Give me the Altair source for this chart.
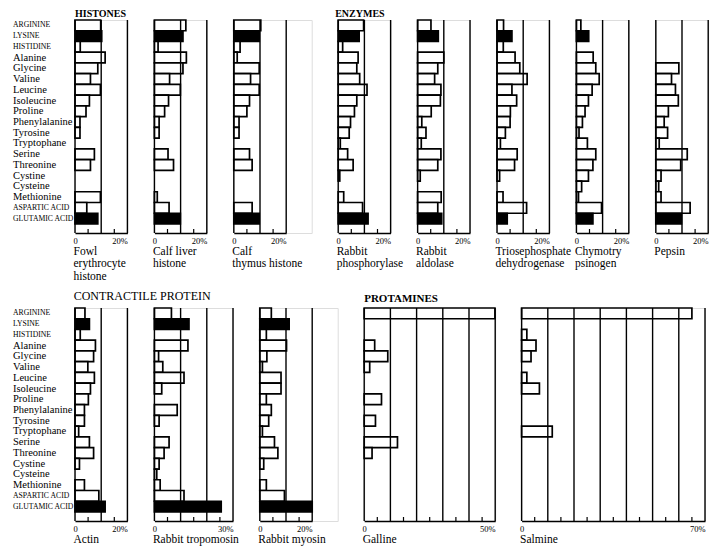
import altair as alt
import pandas as pd

FONT = "Liberation Serif"

AMINO = ["ARGININE", "LYSINE", "HISTIDINE", "Alanine", "Glycine", "Valine",
         "Leucine", "Isoleucine", "Proline", "Phenylalanine", "Tyrosine",
         "Tryptophane", "Serine", "Threonine", "Cystine", "Cysteine",
         "Methionine", "ASPARTIC ACID", "GLUTAMIC ACID"]
SMALL_CAPS = ["ARGININE", "LYSINE", "HISTIDINE", "ASPARTIC ACID", "GLUTAMIC ACID"]
DARK = ["LYSINE", "GLUTAMIC ACID"]

# percentages (order as AMINO)
FOWL = [9.8, 10.2, 2.0, 11.5, 8.7, 5.9, 9.7, 5.5, 4.2, 1.9, 1.9, 0, 7.4, 5.9, 0, 0, 9.7, 4.5, 8.7]
CALF_LIVER = [12.0, 10.9, 1.4, 12.2, 10.9, 5.8, 9.9, 5.4, 3.9, 1.8, 1.8, 0, 5.2, 7.3, 0, 0, 1.1, 5.6, 9.9]
CALF_THYMUS = [10.3, 9.7, 2.4, 1.3, 9.7, 6.4, 9.7, 6.0, 5.0, 2.0, 2.0, 0, 6.0, 7.0, 0, 0, 0, 7.0, 9.7]
PHOSPHORYLASE = [9.7, 8.0, 1.7, 7.6, 7.1, 8.2, 11.0, 7.1, 6.2, 4.7, 4.2, 0.8, 3.6, 5.7, 0.6, 0, 2.1, 9.3, 11.4]
ALDOLASE = [5.1, 7.9, 0, 10.0, 7.7, 6.5, 8.9, 8.7, 5.2, 1.6, 3.2, 1.4, 8.9, 7.7, 1.0, 0, 9.0, 7.7, 9.2]
TRIOSE = [2.5, 5.7, 2.4, 6.9, 8.7, 11.5, 5.7, 7.5, 5.1, 5.0, 3.2, 1.3, 7.7, 6.7, 1.0, 0, 2.3, 11.3, 3.9]
CHYMO = [1.7, 4.7, 0, 6.4, 7.4, 8.7, 6.0, 4.6, 3.3, 2.3, 1.0, 4.2, 7.4, 6.3, 4.6, 2.0, 0.8, 9.6, 6.3]
PEPSIN = [0, 0, 0, 0, 8.8, 6.0, 7.5, 8.6, 4.8, 3.2, 4.5, 1.3, 12.0, 9.5, 2.0, 1.1, 2.0, 13.1, 9.8]
ACTIN = [3.8, 5.5, 2.0, 7.8, 7.1, 4.9, 7.4, 5.9, 5.1, 3.6, 3.6, 1.4, 5.5, 7.1, 1.7, 0, 3.6, 9.1, 11.5]
TROPOMYOSIN = [6.5, 13.2, 0, 12.8, 1.6, 3.2, 11.3, 2.8, 0, 8.7, 1.8, 0, 5.6, 3.7, 1.8, 0.9, 2.2, 11.3, 25.5]
MYOSIN = [4.4, 11.2, 2.5, 10.2, 2.7, 1.0, 8.1, 8.1, 2.5, 4.4, 3.4, 1.0, 5.6, 6.9, 1.5, 0, 2.5, 9.4, 20.0]
GALLINE = [49.9, 0, 0, 4.0, 9.0, 2.1, 0, 0, 6.6, 0, 4.3, 0, 12.7, 3.0, 0, 0, 0, 0, 0]
SALMINE = [65.0, 0, 2.0, 5.5, 3.6, 0, 2.0, 6.8, 0, 0, 0, 11.7, 0, 0, 0, 0, 0, 0, 0]

TOP_NAMES = [["Fowl", "erythrocyte", "histone"], ["Calf liver", "histone"],
             ["Calf", "thymus histone"], ["Rabbit", "phosphorylase"],
             ["Rabbit", "aldolase"], ["Triosephosphate", "\u00a0\u00a0dehydrogenase"],
             ["Chymotry", "psinogen"], ["Pepsin"]]
BOTTOM_NAMES = [["Actin"], ["Rabbit tropomosin"], ["Rabbit myosin"], ["Galline"], ["Salmine"]]

PX = 2.62    # pixels per percent
H = 213      # panel height
GAP = 26.4   # space between panels of a group
EXTRA = 25.5  # additional space after the last panel of a group


def panel(title_lines, values, vmax, heading=None, labels=False, extra=0):
    w = vmax * PX
    df = pd.DataFrame({"amino": AMINO, "value": values,
                       "dark": [a in DARK for a in AMINO]})
    df = df[df["value"] > 0]
    xs = alt.Scale(domain=[0, vmax], range=[0, w], nice=False, zero=True)
    ys = alt.Scale(domain=AMINO, paddingInner=0, paddingOuter=0.42, align=0)
    ax = alt.Axis(values=[0, vmax], ticks=False, tickSize=0, grid=False,
                  domain=True, domainColor="black", domainWidth=1.5,
                  labelFont=FONT, labelFontSize=8.5, labelColor="black",
                  labelPadding=3, labelOverlap=False, labelFlush=False,
                  labelExpr="datum.value == 0 ? '0' : datum.value + '%'",
                  labelAlign={"condition": {"test": "datum.value == 0", "value": "center"},
                              "value": "right"},
                  title=title_lines, titleFont=FONT, titleFontSize=11.5,
                  titleFontWeight="normal", titleColor="black",
                  titleAlign="left", titleAnchor="start", titleX=-2, titleY=21.5,
                  titleBaseline="alphabetic", titleLineHeight=12.3)

    bars = alt.Chart(df).mark_bar(stroke="black", strokeWidth=1.7).encode(
        x=alt.X("value:Q", scale=xs, axis=ax),
        y=alt.Y("amino:N", scale=ys, axis=None, sort=AMINO),
        fill=alt.condition(alt.datum.dark, alt.value("black"), alt.value("white")),
    )
    grid = alt.Chart(pd.DataFrame({"value": list(range(0, vmax + 1, 10))})).mark_rule(
        color="black", strokeWidth=1.4).encode(
        x=alt.X("value:Q", scale=xs, axis=ax), y=alt.value(0), y2=alt.value(H))
    ticks = alt.Chart(pd.DataFrame({"value": list(range(5, vmax, 10))})).mark_rule(
        color="black", strokeWidth=1.2).encode(
        x=alt.X("value:Q", scale=xs, axis=ax), y=alt.value(H), y2=alt.value(H - 4))
    layers = [bars, grid, ticks]

    if labels:
        ldf = pd.DataFrame({"amino": AMINO, "caps": [a in SMALL_CAPS for a in AMINO]})
        lab = alt.Chart(ldf).mark_text(align="left", baseline="middle", font=FONT,
                                       color="black").encode(
            y=alt.Y("amino:N", scale=ys, axis=None, sort=AMINO),
            x=alt.value(-62),
            text="amino:N",
            size=alt.condition(alt.datum.caps, alt.value(7.7), alt.value(10.5)),
        )
        layers.append(lab)

    if heading is not None:
        text, dx, dy, size, weight = heading
        hd = alt.Chart(pd.DataFrame({"t": [text]})).mark_text(
            align="left", baseline="alphabetic", font=FONT, fontSize=size,
            fontWeight=weight, color="black").encode(
            text="t:N", x=alt.value(dx), y=alt.value(dy))
        layers.append(hd)

    return alt.layer(*layers).properties(width=w + extra, height=H)


top = [
    panel(TOP_NAMES[0], FOWL, 20, heading=("HISTONES", 0, -3.5, 10, "bold"), labels=True),
    panel(TOP_NAMES[1], CALF_LIVER, 20),
    panel(TOP_NAMES[2], CALF_THYMUS, 20, extra=EXTRA),
    panel(TOP_NAMES[3], PHOSPHORYLASE, 20, heading=("ENZYMES", -3, -3.5, 10, "bold")),
    panel(TOP_NAMES[4], ALDOLASE, 20),
    panel(TOP_NAMES[5], TRIOSE, 20),
    panel(TOP_NAMES[6], CHYMO, 20),
    panel(TOP_NAMES[7], PEPSIN, 20),
]
bottom = [
    panel(BOTTOM_NAMES[0], ACTIN, 20, heading=("CONTRACTILE PROTEIN", -1.3, -8, 12, "normal"), labels=True),
    panel(BOTTOM_NAMES[1], TROPOMYOSIN, 30),
    panel(BOTTOM_NAMES[2], MYOSIN, 20, extra=EXTRA),
    panel(BOTTOM_NAMES[3], GALLINE, 50, heading=("PROTAMINES", 0, -6, 11, "bold")),
    panel(BOTTOM_NAMES[4], SALMINE, 70),
]

row1 = alt.hconcat(*top, spacing=GAP, bounds="flush")
row2 = alt.hconcat(*bottom, spacing=GAP, bounds="flush")

chart = alt.vconcat(row1, row2, spacing=6).properties(
    padding={"left": 4, "top": 0, "right": 0, "bottom": 0}
).configure_view(stroke=None).configure(font=FONT)

chart.save("out.html", embed_options={"renderer": "svg", "actions": False})
